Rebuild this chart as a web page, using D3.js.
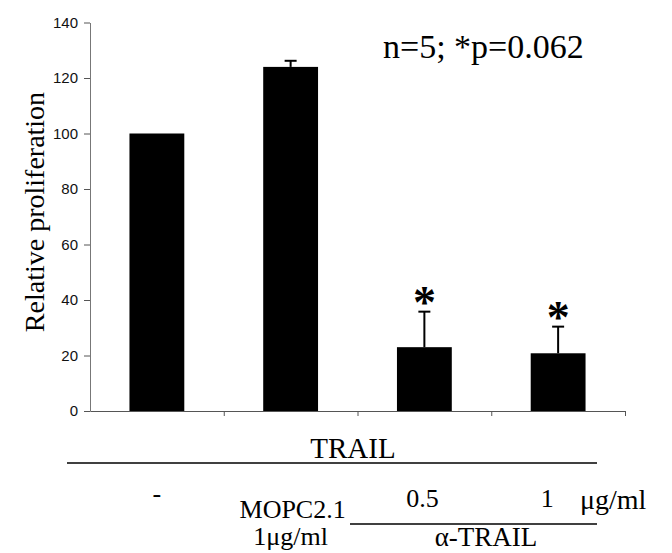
<!DOCTYPE html>
<html><head><meta charset="utf-8">
<script src="https://cdn.jsdelivr.net/npm/d3@7/dist/d3.min.js"></script>
<style>body{margin:0;background:#fff}</style>
</head><body><svg id="c" width="672" height="553"></svg>
<script>
const categories = ["-", "MOPC2.1", "0.5", "1"];
const values = [100, 124, 23, 20.8];
const errors = [0, 2.2, 12.8, 9.6];
const significant = [false, false, true, true];
const yTicks = [0, 20, 40, 60, 80, 100, 120, 140];
const subLabels = ["", "1\u03bcg/ml", "", ""];
const yTitle = "Relative proliferation";
const note = "n=5; *p=0.062";
const groupTitle = "TRAIL";
const antibodyTitle = "\u03b1-TRAIL";
const unitLabel = "\u03bcg/ml";

const svg = d3.select("#c");
const serif = "'Liberation Serif','Times New Roman',serif";
const sans = "'Liberation Sans',Arial,sans-serif";

const y = d3.scaleLinear().domain([0, 140]).range([411, 22.5]);
const x = d3.scaleBand().domain(categories).range([90, 625]).paddingInner(0.59).paddingOuter(0.295);
const xl = d3.scaleLinear().domain([0, categories.length]).range([90, 625]);
const cx = c => x(c) + x.bandwidth() / 2;

// y axis
const ya = svg.append("g").attr("transform", "translate(90,0)")
  .call(d3.axisLeft(y).tickValues(yTicks).tickSize(6).tickPadding(6).tickSizeOuter(0));
ya.select(".domain").attr("stroke", "#777");
ya.selectAll(".tick line").attr("stroke", "#555");
ya.selectAll("text").attr("font-family", sans).attr("font-size", 15).attr("fill", "#111");

// x axis
const xa = svg.append("g").attr("transform", "translate(0,411)")
  .call(d3.axisBottom(xl).tickValues(d3.range(1, categories.length + 1)).tickFormat("").tickSize(5).tickSizeOuter(0));
xa.select(".domain").attr("stroke", "#555");
xa.selectAll(".tick line").attr("stroke", "#555");

// bars
const data = categories.map((c, i) => ({c, v: values[i], e: errors[i], s: significant[i], sub: subLabels[i]}));
svg.append("g").selectAll("rect").data(data).join("rect")
  .attr("x", d => x(d.c)).attr("width", x.bandwidth())
  .attr("y", d => y(d.v)).attr("height", d => y(0) - y(d.v))
  .attr("fill", "#000");

// error bars
const eb = svg.append("g").attr("stroke", "#000").attr("stroke-width", 2);
data.filter(d => d.e > 0).forEach(d => {
  eb.append("line").attr("x1", cx(d.c)).attr("x2", cx(d.c)).attr("y1", y(d.v)).attr("y2", y(d.v + d.e));
  eb.append("line").attr("x1", cx(d.c) - 6).attr("x2", cx(d.c) + 6).attr("y1", y(d.v + d.e)).attr("y2", y(d.v + d.e));
});

// significance stars
svg.append("g").selectAll("text").data(data.filter(d => d.s)).join("text")
  .attr("x", d => cx(d.c)).attr("y", d => y(d.v + d.e) + 6)
  .attr("text-anchor", "middle").attr("font-family", serif).attr("font-size", 46).attr("font-weight", "bold")
  .text("*");

// y title
svg.append("text").attr("transform", "translate(44,212) rotate(-90)")
  .attr("text-anchor", "middle").attr("font-family", serif).attr("font-size", 28).text(yTitle);

// note
svg.append("text").attr("x", 383).attr("y", 58).attr("font-family", serif).attr("font-size", 34).text(note);

// bottom labels
svg.append("text").attr("x", 353).attr("y", 458).attr("text-anchor", "middle")
  .attr("font-family", serif).attr("font-size", 29).text(groupTitle);
svg.append("line").attr("x1", 67).attr("x2", 597).attr("y1", 463).attr("y2", 463).attr("stroke", "#000").attr("stroke-width", 1.5);

const labDx = [0, 2, -2, -11];
const labY = [502, 518, 507, 507];
svg.append("g").selectAll("text").data(data).join("text")
  .attr("x", (d, i) => cx(d.c) + labDx[i]).attr("y", (d, i) => labY[i])
  .attr("text-anchor", "middle").attr("font-family", serif).attr("font-size", 26)
  .text(d => d.c);
svg.append("g").selectAll("text").data(data.filter(d => d.sub)).join("text")
  .attr("x", d => cx(d.c)).attr("y", 545)
  .attr("text-anchor", "middle").attr("font-family", serif).attr("font-size", 26)
  .text(d => d.sub);

svg.append("text").attr("x", 580).attr("y", 509).attr("font-family", serif).attr("font-size", 28).text(unitLabel);
svg.append("line").attr("x1", 350).attr("x2", 597).attr("y1", 524).attr("y2", 524).attr("stroke", "#000").attr("stroke-width", 1.5);
svg.append("text").attr("x", 486).attr("y", 546).attr("text-anchor", "middle")
  .attr("font-family", serif).attr("font-size", 27).text(antibodyTitle);
</script></body></html>
